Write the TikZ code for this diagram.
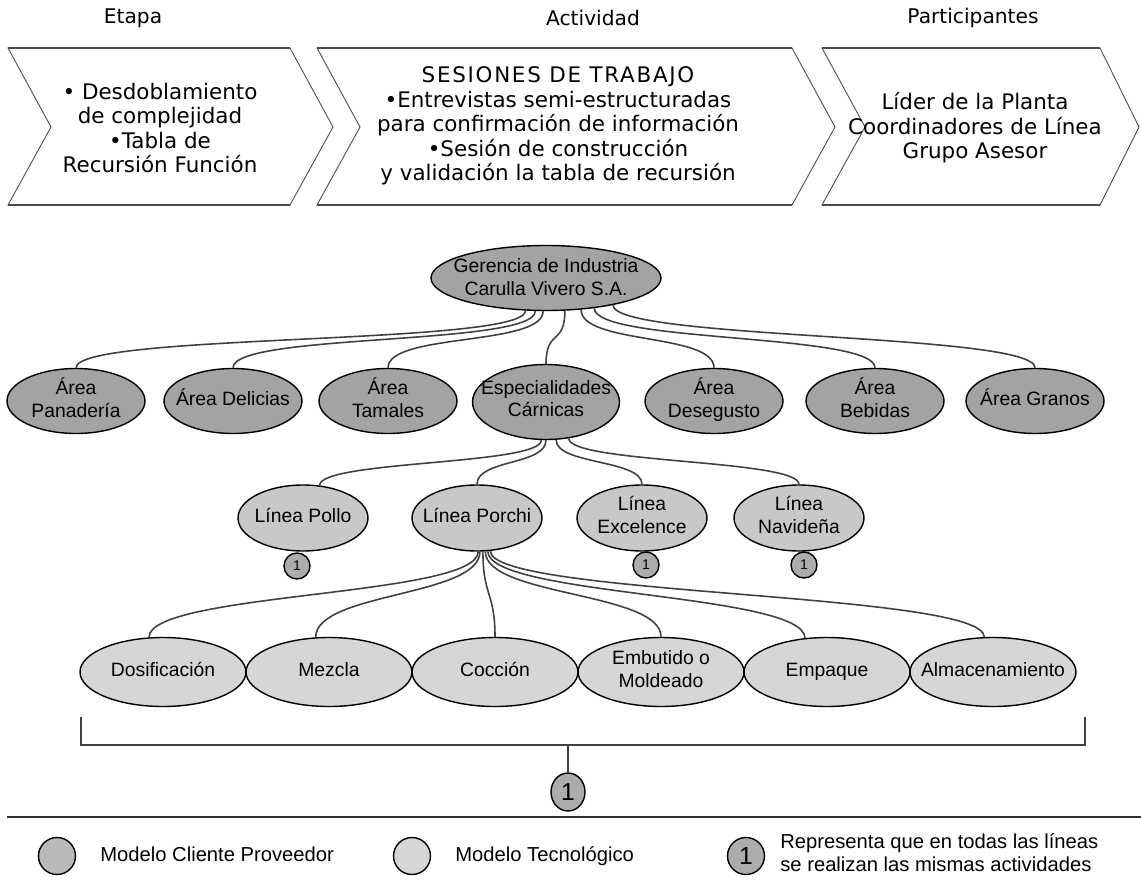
\documentclass[tikz,border=0pt]{standalone}
\usepackage{fontspec}
\setmainfont{Liberation Sans}
\newfontfamily\verafont{DejaVu Sans}
\usetikzlibrary{shapes.geometric}
\definecolor{areagray}{RGB}{163,163,163}
\definecolor{lineagray}{RGB}{200,200,200}
\definecolor{procgray}{RGB}{214,214,214}
\definecolor{unogray}{RGB}{172,172,172}
\definecolor{leggray}{RGB}{185,185,185}
\definecolor{edgegray}{RGB}{75,75,75}

\begin{document}
\begin{tikzpicture}[x=0.02cm, y=-0.02cm,
  chev/.style={draw=edgegray, line width=0.5pt, fill=white},
  chevedge/.style={draw=edgegray, line width=1.5pt},
  chevtxt/.style={font=\verafont\fontsize{12.2}{13.9}\selectfont, align=center, inner sep=0pt},
  head/.style={font=\verafont\fontsize{11.5}{13}\selectfont, inner sep=0pt},
  txt/.style={font=\fontsize{11}{13}\selectfont, align=center, inner sep=0pt,
    execute at begin node=\strut, execute at end node=\strut},
  oval/.style={ellipse, draw=black, line width=0.8pt, inner sep=0pt},
  area/.style={oval, fill=areagray, minimum width=2.76cm, minimum height=1.3cm},
  linea/.style={oval, fill=lineagray, minimum width=2.6cm, minimum height=1.32cm},
  proc/.style={oval, fill=procgray, minimum width=3.32cm, minimum height=1.38cm},
  uno/.style={circle, draw=black, line width=0.8pt, fill=unogray, minimum size=0.52cm, inner sep=0pt, font=\fontsize{8}{8}\selectfont},
  conn/.style={draw=black!75, line width=0.9pt},
  legtxt/.style={font=\fontsize{11.5}{13}\selectfont, anchor=west, align=left, inner sep=0pt,
    execute at begin node=\strut, execute at end node=\strut}]
  \useasboundingbox (0,0) rectangle (1141,891);

  % Header titles
  \node[head] (etapa) at (133,18) {Etapa};
  \node[head] (actividad) at (593,18) {Actividad};
  \node[head] (particip) at (973,18) {Participantes};

  % Header chevrons
  \draw[chev] (8,48) -- (290,48) -- (333,127) -- (290,205) -- (8,205) -- (51,127) -- cycle;
  \draw[chevedge] (8,48) -- (290,48) (8,205) -- (290,205);
  \draw[chev] (317,48) -- (792,48) -- (835,127) -- (792,205) -- (317,205) -- (360,127) -- cycle;
  \draw[chevedge] (317,48) -- (792,48) (317,205) -- (792,205);
  \draw[chev] (822,48) -- (1100,48) -- (1139,127) -- (1100,205) -- (822,205) -- (865,127) -- cycle;
  \draw[chevedge] (822,48) -- (1100,48) (822,205) -- (1100,205);

  \node[chevtxt] (etapaTxt) at (160,128) {• Desdoblamiento\\de complejidad\\•Tabla de\\Recursión Función};
  \node[chevtxt] (actTxt) at (558,126) {{\addfontfeature{LetterSpace=8}SESIONES DE TRABAJO}\\•Entrevistas semi-estructuradas\\para confirmación de información\\•Sesión de construcción\\y validación la tabla de recursión};
  \node[chevtxt] (partTxt) at (975,128) {Líder de la Planta\\Coordinadores de Línea\\Grupo Asesor};

  % Gerencia and areas
  \node[area, minimum width=4.6cm, minimum height=1.3cm, label={[txt, yshift=-1.5pt]center:Gerencia de Industria\\Carulla Vivero S.A.}] (ger) at (546,278) {};
  \node[area, label={[txt]center:Área\\Panadería}] (pan) at (76,401) {};
  \node[area, label={[txt]center:Área Delicias}] (del) at (233,401) {};
  \node[area, label={[txt]center:Área\\Tamales}] (tam) at (388,401) {};
  \node[area, minimum width=2.94cm, minimum height=1.5cm, label={[txt]center:Especialidades\\Cárnicas}] (esp) at (546,402) {};
  \node[area, label={[txt]center:Área\\Desegusto}] (deseg) at (714,401) {};
  \node[area, label={[txt]center:Área\\Bebidas}] (beb) at (875,401) {};
  \node[area, label={[txt]center:Área Granos}] (gran) at (1035,401) {};

  % Lineas
  \node[linea, label={[txt]center:Línea Pollo}] (pollo) at (303,518) {};
  \node[linea, label={[txt]center:Línea Porchi}] (porchi) at (477,518) {};
  \node[linea, label={[txt]center:Línea\\Excelence}] (excel) at (642,518) {};
  \node[linea, label={[txt]center:Línea\\Navideña}] (navid) at (799,518) {};

  % Procesos
  \node[proc, label={[txt]center:Dosificación}] (dosif) at (163,672) {};
  \node[proc, label={[txt]center:Mezcla}] (mezcla) at (329,672) {};
  \node[proc, label={[txt]center:Cocción}] (coccion) at (495,672) {};
  \node[proc, label={[txt]center:Embutido o\\Moldeado}] (embutido) at (661,672) {};
  \node[proc, label={[txt]center:Empaque}] (empaque) at (827,672) {};
  \node[proc, label={[txt]center:Almacenamiento}] (almacen) at (993,672) {};

  % Connectors
  \foreach \child/\ang in {pan/-122, del/-108, tam/-95, esp/-60, deseg/-42, beb/-32, gran/-22}
    \draw[conn] (ger.\ang) .. controls +(0,35) and +(0,-35) .. (\child.north);
  \foreach \child/\ang/\inang in {pollo/-97/63, porchi/-90/90, excel/-75/90, navid/-58/90}
    \draw[conn] (esp.\ang) .. controls +(0,25) and +(0,-25) .. (\child.\inang);
  \foreach \child/\ang/\inang in {dosif/-88/112, mezcla/-85/111, coccion/-80/90, embutido/-76/90, empaque/-72/123, almacen/-68/104}
    \draw[conn] (porchi.\ang) .. controls +(0,45) and +(0,-45) .. (\child.\inang);

  % Same activities markers
  \node[uno] (unoPollo) at (297,566) {1};
  \node[uno] (unoExcel) at (646,565) {1};
  \node[uno] (unoNavid) at (804,565) {1};

  % Bracket under the processes
  \coordinate (brL) at (81,717);
  \coordinate (brR) at (1085,717);
  \coordinate (brMid) at (568,745);
  \draw[conn] (brL) -- (81,745) -- (1085,745) -- (brR);
  \node[oval, fill=unogray, minimum width=0.68cm, minimum height=0.76cm, font=\fontsize{14}{14}\selectfont] (bigUno) at (568,792) {1};
  \draw[conn] (brMid) -- (bigUno.north);

  % Legend
  \draw[line width=1.2pt, black!80] (7,817) -- (1141,817);
  \node[circle, draw=black, line width=0.8pt, fill=leggray, minimum size=0.74cm] (legCP) at (57,856) {};
  \node[legtxt] (legCPtxt) at (100,857) {Modelo Cliente Proveedor};
  \node[circle, draw=black, line width=0.8pt, fill=procgray, minimum size=0.74cm] (legTec) at (412,856) {};
  \node[legtxt] (legTectxt) at (455,857) {Modelo Tecnológico};
  \node[circle, draw=black, line width=0.8pt, fill=unogray, minimum size=0.74cm, inner sep=0pt, font=\fontsize{14}{14}\selectfont] (legUno) at (746,856) {1};
  \node[legtxt] (legUnotxt) at (780,856) {Representa que en todas las líneas\\se realizan las mismas actividades};
\end{tikzpicture}
\end{document}
